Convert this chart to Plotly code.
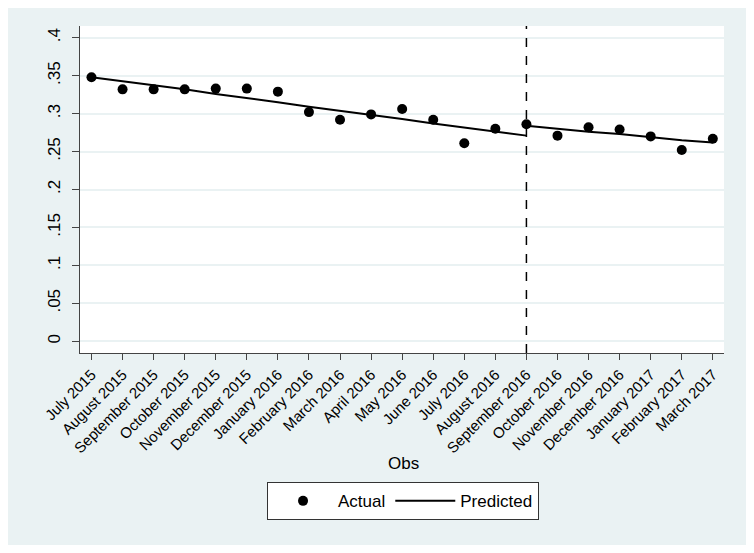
import plotly.graph_objects as go

months = ["July 2015", "August 2015", "September 2015", "October 2015", "November 2015",
          "December 2015", "January 2016", "February 2016", "March 2016", "April 2016",
          "May 2016", "June 2016", "July 2016", "August 2016", "September 2016",
          "October 2016", "November 2016", "December 2016", "January 2017",
          "February 2017", "March 2017"]

actual = [0.348, 0.332, 0.332, 0.332, 0.333, 0.333, 0.329, 0.302, 0.292, 0.299, 0.306,
          0.292, 0.261, 0.280, 0.286, 0.271, 0.282, 0.279, 0.270, 0.252, 0.267]

# fitted line before and after the break (September 2016)
pred_before = [0.348, 0.343, 0.337, 0.332, 0.326, 0.321, 0.315, 0.309, 0.304, 0.298,
               0.293, 0.287, 0.282, 0.276, 0.271]
pred_after = [0.284, 0.280, 0.276, 0.273, 0.269, 0.265, 0.262]

break_month = "September 2016"

y_ticks = [0, 0.05, 0.1, 0.15, 0.2, 0.25, 0.3, 0.35, 0.4]
y_ticktext = ["0", ".05", ".1", ".15", ".2", ".25", ".3", ".35", ".4"]

idx = list(range(len(months)))
b = months.index(break_month)
px_ = idx[:b + 1] + [None] + idx[b:]
py_ = pred_before + [None] + pred_after

font = "Liberation Sans, Arial, sans-serif"
bg = "#EAF2F3"

fig = go.Figure()
fig.add_trace(go.Scatter(x=idx, y=actual, mode="markers", name="Actual",
                         marker=dict(color="black", size=10)))
fig.add_trace(go.Scatter(x=px_, y=py_, mode="lines", name="Predicted",
                         line=dict(color="black", width=2), connectgaps=False))

fig.add_vline(x=b, line=dict(color="black", width=1.5, dash="dash"))

fig.add_annotation(text="Obs", xref="paper", yref="paper", x=0.5016, y=-0.337,
                   showarrow=False, font=dict(size=17, color="black", family=font),
                   yanchor="middle")

# page body margin (8px) gives the white frame seen round the Stata export
fig.update_layout(
    width=738, height=537,
    margin=dict(l=72, r=22, t=18, b=192),
    paper_bgcolor=bg, plot_bgcolor="white",
    font=dict(family=font, color="black"),
    showlegend=True,
    legend=dict(orientation="h", x=0.5016, xanchor="center", y=-0.4535,
                yanchor="middle", bgcolor="white", bordercolor="#333", borderwidth=1,
                font=dict(size=17, family=font), itemwidth=60),
)
fig.update_xaxes(range=[-0.37, 20.36], tickmode="array", tickvals=idx, ticktext=months,
                 tickangle=-45, tickfont=dict(size=15), showgrid=False, zeroline=False,
                 showline=True, linecolor="#444", linewidth=1.2,
                 ticks="outside", ticklen=6, tickcolor="#444")
fig.update_yaxes(range=[-0.0155, 0.4155], tickmode="array", tickvals=y_ticks,
                 ticktext=y_ticktext, tickangle=-90, tickfont=dict(size=17),
                 ticklabelstandoff=5,
                 showgrid=True, gridcolor=bg, gridwidth=1.5, zeroline=False,
                 showline=True, linecolor="#444", linewidth=1.2,
                 ticks="outside", ticklen=7, tickcolor="#444")

fig.write_html("out.html")
